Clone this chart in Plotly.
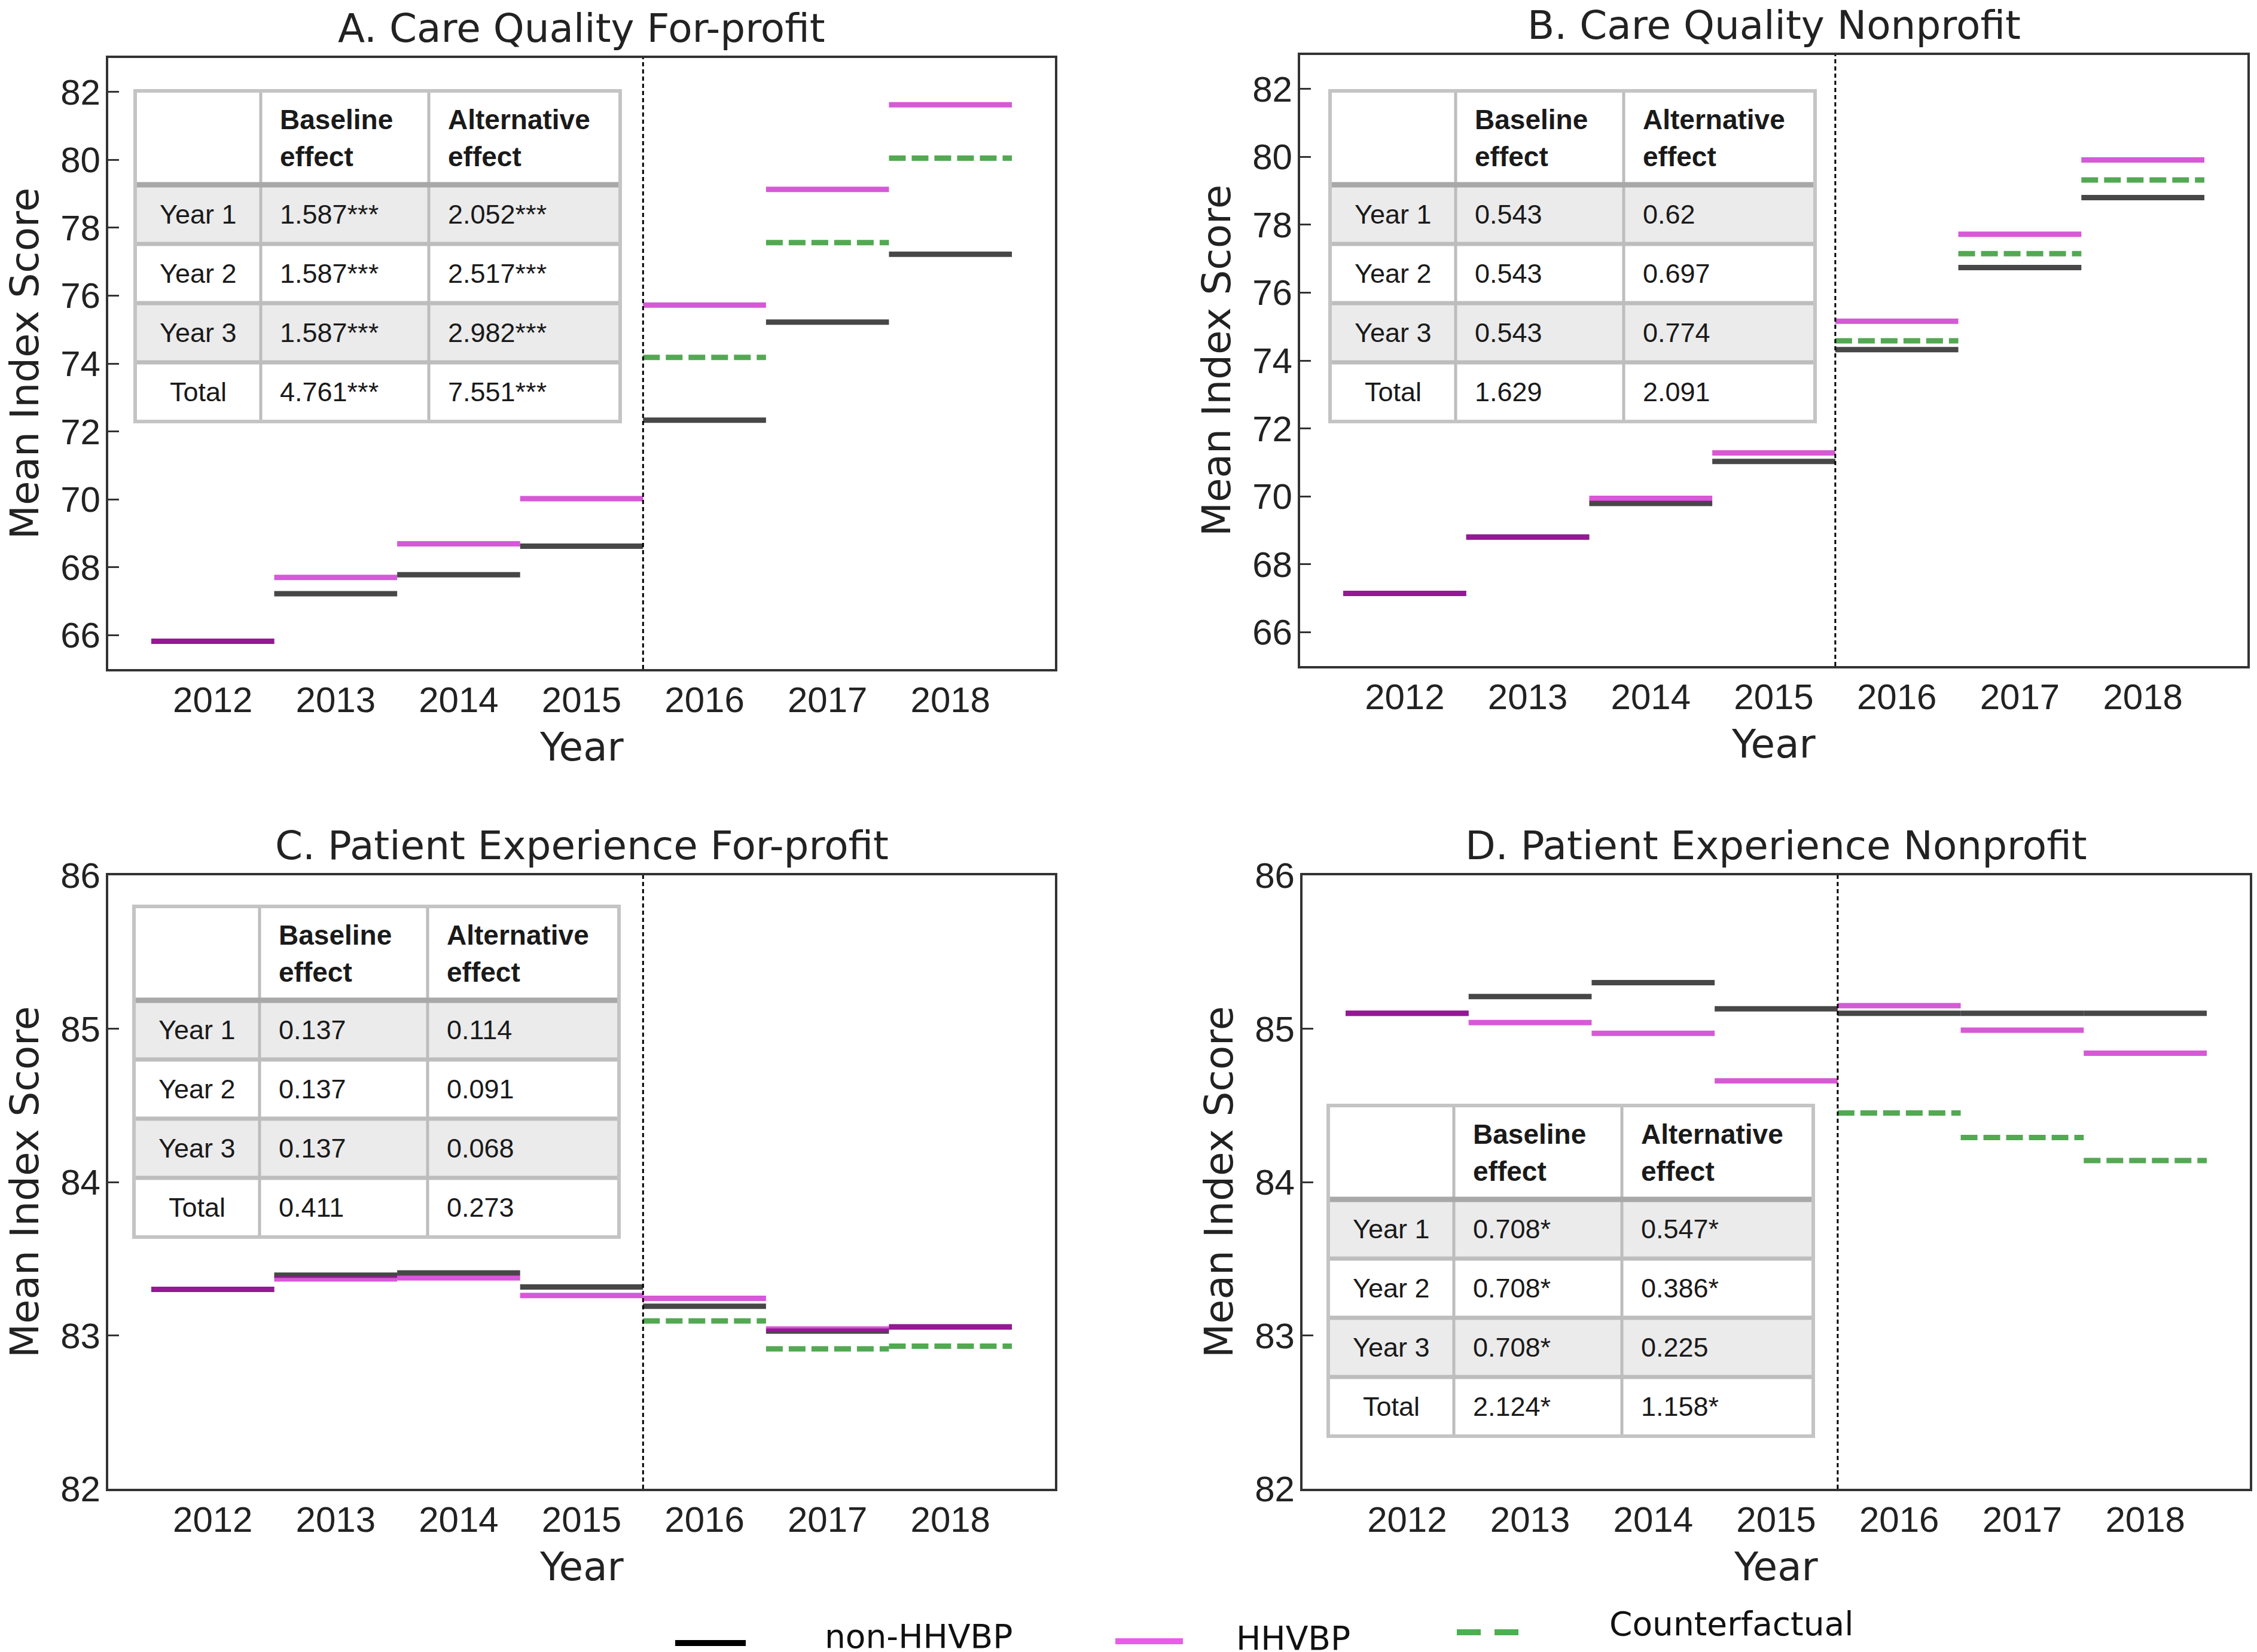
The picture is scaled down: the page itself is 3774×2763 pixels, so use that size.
import plotly.graph_objects as go

# ---------------- data ----------------
YEARS = [2012, 2013, 2014, 2015, 2016, 2017, 2018]
CF_YEARS = [2016, 2017, 2018]
POLICY_START = 2015.5

A_NON = [65.82, 67.22, 67.78, 68.62, 72.33, 75.22, 77.22]
A_HH = [65.82, 67.70, 68.69, 70.02, 75.72, 79.13, 81.62]
A_CF = [74.18, 77.56, 80.05]

B_NON = [67.14, 68.80, 69.79, 71.03, 74.32, 76.74, 78.80]
B_HH = [67.14, 68.80, 69.94, 71.28, 75.16, 77.72, 79.91]
B_CF = [74.58, 77.15, 79.32]

C_NON = [83.30, 83.393, 83.407, 83.316, 83.19, 83.028, 83.056]
C_HH = [83.30, 83.368, 83.375, 83.26, 83.242, 83.042, 83.056]
C_CF = [83.095, 82.912, 82.93]

D_NON = [85.10, 85.21, 85.30, 85.13, 85.10, 85.10, 85.10]
D_HH = [85.10, 85.04, 84.97, 84.66, 85.15, 84.99, 84.84]
D_CF = [84.45, 84.29, 84.14]

TITLES = ["A. Care Quality For-profit", "B. Care Quality Nonprofit",
          "C. Patient Experience For-profit", "D. Patient Experience Nonprofit"]
Y_RANGES = [[65, 83], [65, 83], [82, 86], [82, 86]]
Y_TICKS = [[66, 68, 70, 72, 74, 76, 78, 80, 82], [66, 68, 70, 72, 74, 76, 78, 80, 82],
           [82, 83, 84, 85, 86], [82, 83, 84, 85, 86]]

TABLE_ROWS = ["Year 1", "Year 2", "Year 3", "Total"]
TABLE_HEAD = [["Baseline", "effect"], ["Alternative", "effect"]]
A_BASE = ["1.587***", "1.587***", "1.587***", "4.761***"]
A_ALT = ["2.052***", "2.517***", "2.982***", "7.551***"]
B_BASE = ["0.543", "0.543", "0.543", "1.629"]
B_ALT = ["0.62", "0.697", "0.774", "2.091"]
C_BASE = ["0.137", "0.137", "0.137", "0.411"]
C_ALT = ["0.114", "0.091", "0.068", "0.273"]
D_BASE = ["0.708*", "0.708*", "0.708*", "2.124*"]
D_ALT = ["0.547*", "0.386*", "0.225", "1.158*"]

LEGEND_LABELS = ["non-HHVBP", "HHVBP", "Counterfactual"]

# ---------------- layout helpers ----------------
W, H = 3774, 2763
OFF = 8  # page offset compensation
def px(x): return (x - OFF) / W
def py(y): return 1 - (y - OFF) / H

FRAMES = [(181, 97, 1764, 1119), (2174, 92, 3758, 1114),
          (181, 1464, 1764, 2490), (2178, 1464, 3762, 2490)]
TABLE_OFF = [(45, 55), (50, 60), (43, 52), (43, 385)]

COL_NON = "rgba(0,0,0,0.72)"
COL_HH = "rgba(192,0,192,0.65)"
COL_CF = "rgba(0,128,0,0.68)"

TITLE_FONT = dict(family="DejaVu Sans", size=66, color="#222222")
YLAB_FONT = dict(family="DejaVu Sans", size=66, color="#222222")
TICK_FONT = dict(family="Liberation Sans, Arial", size=60, color="#222222")
TAB_FONT = dict(family="Liberation Sans, Arial", size=45, color="#1a1a1a")
HEAD_FONT = dict(family="Liberation Sans, Arial", size=46, color="#1a1a1a")
LEG_FONT = dict(family="DejaVu Sans", size=55, color="#111111")

def segs(years, vals):
    xs, ys = [], []
    for yr, v in zip(years, vals):
        xs += [yr - 0.5, yr + 0.5, None]
        ys += [v, v, None]
    return xs, ys

fig = go.Figure()
layout = dict(width=W, height=H, autosize=False,
              margin=dict(l=0, r=0, t=0, b=0, pad=0, autoexpand=False),
              plot_bgcolor="white", paper_bgcolor="white", showlegend=False)
shapes, annots = [], []

panels = [(A_NON, A_HH, A_CF, A_BASE, A_ALT), (B_NON, B_HH, B_CF, B_BASE, B_ALT),
          (C_NON, C_HH, C_CF, C_BASE, C_ALT), (D_NON, D_HH, D_CF, D_BASE, D_ALT)]

for i, (non, hh, cf, base, alt) in enumerate(panels):
    n = "" if i == 0 else str(i + 1)
    l, t, r, b = FRAMES[i]
    layout["xaxis" + n] = dict(domain=[px(l), px(r)], anchor="y" + n, range=[2011.15, 2018.85],
                               tickvals=YEARS, ticktext=[str(y) for y in YEARS], ticks="",
                               showline=True, mirror=True, linecolor="#333333", linewidth=4,
                               showgrid=False, zeroline=False, tickfont=TICK_FONT,
                               ticklabelstandoff=-4, automargin=False)
    layout["yaxis" + n] = dict(domain=[py(b), py(t)], anchor="x" + n, range=Y_RANGES[i],
                               tickvals=Y_TICKS[i], ticks="inside", ticklen=18, tickwidth=3,
                               tickcolor="#333333", showline=True, mirror=True,
                               linecolor="#333333", linewidth=4, showgrid=False,
                               zeroline=False, tickfont=TICK_FONT, ticklabelstandoff=-3,
                               automargin=False)
    xa, ya = "x" + n, "y" + n
    for vals, yrs, col, dash in [(non, YEARS, COL_NON, "solid"), (hh, YEARS, COL_HH, "solid"),
                                 (cf, CF_YEARS, COL_CF, "28px,10px")]:
        xs, ys = segs(yrs, vals)
        fig.add_trace(go.Scatter(x=xs, y=ys, mode="lines", xaxis=xa, yaxis=ya,
                                 line=dict(color=col, width=9, dash=dash),
                                 hoverinfo="skip"))
    shapes.append(dict(type="line", xref=xa, yref=ya + " domain", x0=POLICY_START,
                       x1=POLICY_START, y0=0, y1=1, layer="above",
                       line=dict(color="black", width=3, dash="7px,5px")))
    cx = (l + r) / 2
    annots.append(dict(text=TITLES[i], x=px(cx), y=py(t - 50), xref="paper", yref="paper",
                       showarrow=False, font=TITLE_FONT, xanchor="center", yanchor="middle"))
    annots.append(dict(text="Mean Index Score", x=px(l - 140), y=py((t + b) / 2), xref="paper",
                       yref="paper", showarrow=False, font=YLAB_FONT, textangle=-90,
                       xanchor="center", yanchor="middle"))
    annots.append(dict(text="Year", x=px(cx), y=py(b + 130), xref="paper", yref="paper",
                       showarrow=False, font=TITLE_FONT, xanchor="center", yanchor="middle"))
    # table
    ox, oy = TABLE_OFF[i]
    tx0, ty0 = l + ox, t + oy
    cw = [210, 281, 320]
    hh_ = 157
    rh = 99
    cx_edges = [tx0, tx0 + cw[0], tx0 + cw[0] + cw[1], tx0 + sum(cw)]
    ry_edges = [ty0, ty0 + hh_] + [ty0 + hh_ + rh * (k + 1) for k in range(4)]
    shapes.append(dict(type="rect", xref="paper", yref="paper", x0=px(cx_edges[0]),
                       x1=px(cx_edges[3]), y0=py(ry_edges[0]), y1=py(ry_edges[-1]),
                       fillcolor="white", line=dict(width=0), layer="above"))
    for k in (0, 2):
        shapes.append(dict(type="rect", xref="paper", yref="paper", x0=px(cx_edges[0]),
                           x1=px(cx_edges[3]), y0=py(ry_edges[k + 1]), y1=py(ry_edges[k + 2]),
                           fillcolor="#ebebeb", line=dict(width=0), layer="above"))
    for k in range(2, 5):
        shapes.append(dict(type="line", xref="paper", yref="paper", x0=px(cx_edges[0]),
                           x1=px(cx_edges[3]), y0=py(ry_edges[k]), y1=py(ry_edges[k]),
                           line=dict(color="#bdbdbd", width=7), layer="above"))
    for k in (1, 2):
        shapes.append(dict(type="line", xref="paper", yref="paper", x0=px(cx_edges[k]),
                           x1=px(cx_edges[k]), y0=py(ry_edges[0]), y1=py(ry_edges[-1]),
                           line=dict(color="#bdbdbd", width=5), layer="above"))
    shapes.append(dict(type="line", xref="paper", yref="paper", x0=px(cx_edges[0]),
                       x1=px(cx_edges[3]), y0=py(ry_edges[1]), y1=py(ry_edges[1]),
                       line=dict(color="#a8a8a8", width=9), layer="above"))
    shapes.append(dict(type="rect", xref="paper", yref="paper", x0=px(cx_edges[0]),
                       x1=px(cx_edges[3]), y0=py(ry_edges[0]), y1=py(ry_edges[-1]),
                       line=dict(color="#c4c4c4", width=6), layer="above"))
    hc = (ry_edges[0] + ry_edges[1]) / 2
    for c, lines in enumerate(TABLE_HEAD):
        for j, txt in enumerate(lines):
            annots.append(dict(text="<b>" + txt + "</b>", x=px(cx_edges[c + 1] + 30),
                               y=py(hc - 31 + 62 * j), xref="paper", yref="paper",
                               showarrow=False, font=HEAD_FONT, xanchor="left",
                               yanchor="middle"))
    for k, lab in enumerate(TABLE_ROWS):
        rc = (ry_edges[k + 1] + ry_edges[k + 2]) / 2
        annots.append(dict(text=lab, x=px((cx_edges[0] + cx_edges[1]) / 2), y=py(rc),
                           xref="paper", yref="paper", showarrow=False, font=TAB_FONT,
                           xanchor="center", yanchor="middle"))
        for c, colvals in enumerate([base, alt]):
            annots.append(dict(text=colvals[k], x=px(cx_edges[c + 1] + 30), y=py(rc),
                               xref="paper", yref="paper", showarrow=False, font=TAB_FONT,
                               xanchor="left", yanchor="middle"))

# ---------------- legend (manual) ----------------
LEG_ITEMS = [
    (LEGEND_LABELS[0], "black", "solid", (1129, 1247, 2748), (1377, 2737)),
    (LEGEND_LABELS[1], "#ea5cea", "solid", (1865, 1978, 2745), (2065, 2740)),
    (LEGEND_LABELS[2], "#4caf50", "40px,23px", (2436, 2539, 2730), (2689, 2716)),
]
for lab, col, dash, (x0, x1, yy), (tx, ty) in LEG_ITEMS:
    shapes.append(dict(type="line", xref="paper", yref="paper", x0=px(x0), x1=px(x1),
                       y0=py(yy), y1=py(yy), line=dict(color=col, width=10, dash=dash)))
    annots.append(dict(text=lab, x=px(tx), y=py(ty), xref="paper", yref="paper",
                       showarrow=False, font=LEG_FONT, xanchor="left", yanchor="middle"))

layout["shapes"] = shapes
layout["annotations"] = annots
fig.update_layout(**layout)
fig.write_html("out.html")
